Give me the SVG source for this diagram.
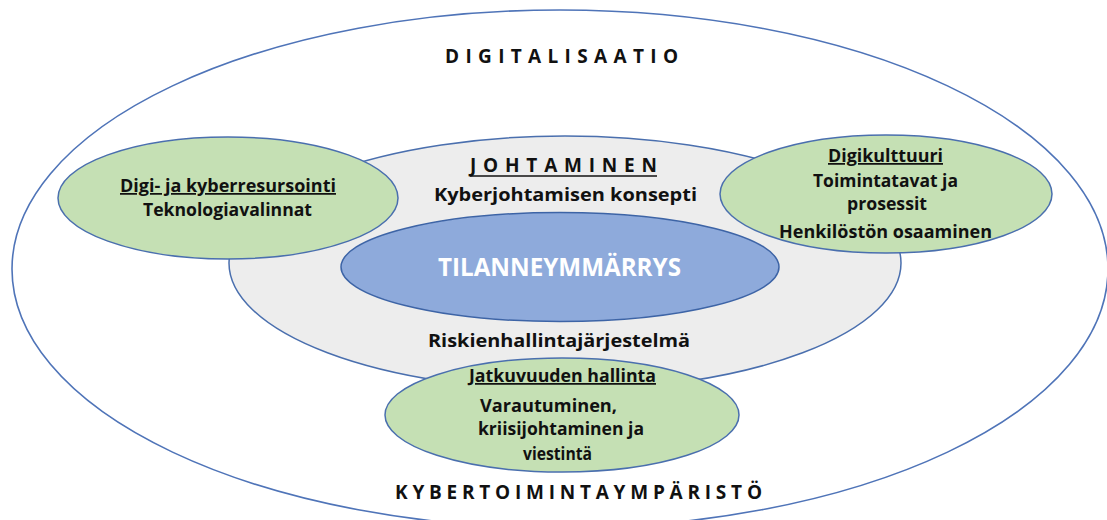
<svg xmlns="http://www.w3.org/2000/svg" width="1107" height="520" viewBox="0 0 1107 520">
  <style>
    .ring { fill: #ffffff; stroke: #4f74b8; stroke-width: 1.6; }
    .core { fill: #ededed; stroke: #4a6fae; stroke-width: 1.5; }
    .center { fill: #8eaadb; stroke: #3d64a6; stroke-width: 1.5; }
    .leaf { fill: #c5e0b4; stroke: #4a6fae; stroke-width: 1.5; }
    text { font-family: "Open Sans", "Noto Sans", "Liberation Sans", sans-serif; font-weight: 700; fill: #111111; }
    .body { font-size: 17.5px; }
    .spaced { font-size: 19px; }
    .big { font-size: 25px; fill: #ffffff; }
    .ul { text-decoration: underline; }
    .rule { stroke: #111111; stroke-width: 1.5; }
  </style>

  <!-- outer environment -->
  <g id="environment">
    <ellipse class="ring" cx="560" cy="269" rx="548" ry="259"/>
    <text class="spaced" x="445" y="63" textLength="233" lengthAdjust="spacing">DIGITALISAATIO</text>
    <text class="spaced" x="395" y="499" textLength="367" lengthAdjust="spacing">KYBERTOIMINTAYMPÄRISTÖ</text>
  </g>

  <!-- management layer -->
  <g id="johtaminen">
    <ellipse class="core" cx="565" cy="263" rx="336" ry="127"/>
    <text class="spaced" x="470" y="172" textLength="187" lengthAdjust="spacing">JOHTAMINEN</text>
    <line class="rule" x1="470" y1="176" x2="657" y2="176"/>
    <text class="body" x="434" y="201" textLength="263" lengthAdjust="spacingAndGlyphs">Kyberjohtamisen konsepti</text>
    <text class="body" x="428" y="347" textLength="262" lengthAdjust="spacingAndGlyphs">Riskienhallintajärjestelmä</text>
  </g>

  <!-- situational awareness -->
  <g id="tilanneymmarrys">
    <ellipse class="center" cx="560" cy="267" rx="219" ry="54.5"/>
    <text class="big" x="438" y="276" textLength="243" lengthAdjust="spacingAndGlyphs">TILANNEYMMÄRRYS</text>
  </g>

  <!-- resourcing -->
  <g id="resursointi">
    <ellipse class="leaf" cx="228" cy="198" rx="170" ry="61"/>
    <text class="body ul" x="120" y="192" textLength="216" lengthAdjust="spacingAndGlyphs">Digi- ja kyberresursointi</text>
    <text class="body" x="143" y="216" textLength="169" lengthAdjust="spacingAndGlyphs">Teknologiavalinnat</text>
  </g>

  <!-- digital culture -->
  <g id="digikulttuuri">
    <ellipse class="leaf" cx="886" cy="194" rx="166" ry="59"/>
    <text class="body ul" x="828" y="162" textLength="115" lengthAdjust="spacingAndGlyphs">Digikulttuuri</text>
    <text class="body" x="813" y="187" textLength="145" lengthAdjust="spacingAndGlyphs">Toimintatavat ja</text>
    <text class="body" x="847" y="210" textLength="80" lengthAdjust="spacingAndGlyphs">prosessit</text>
    <text class="body" x="779" y="238" textLength="213" lengthAdjust="spacingAndGlyphs">Henkilöstön osaaminen</text>
  </g>

  <!-- continuity management -->
  <g id="jatkuvuus">
    <ellipse class="leaf" cx="562" cy="415" rx="177" ry="57"/>
    <text class="body ul" x="469" y="382" textLength="187" lengthAdjust="spacingAndGlyphs">Jatkuvuuden hallinta</text>
    <text class="body" x="480" y="412" textLength="137" lengthAdjust="spacingAndGlyphs">Varautuminen,</text>
    <text class="body" x="478" y="435" textLength="166" lengthAdjust="spacingAndGlyphs">kriisijohtaminen ja</text>
    <text class="body" x="523" y="460" textLength="69" lengthAdjust="spacingAndGlyphs">viestintä</text>
  </g>

  <g id="connectors"/>
</svg>
